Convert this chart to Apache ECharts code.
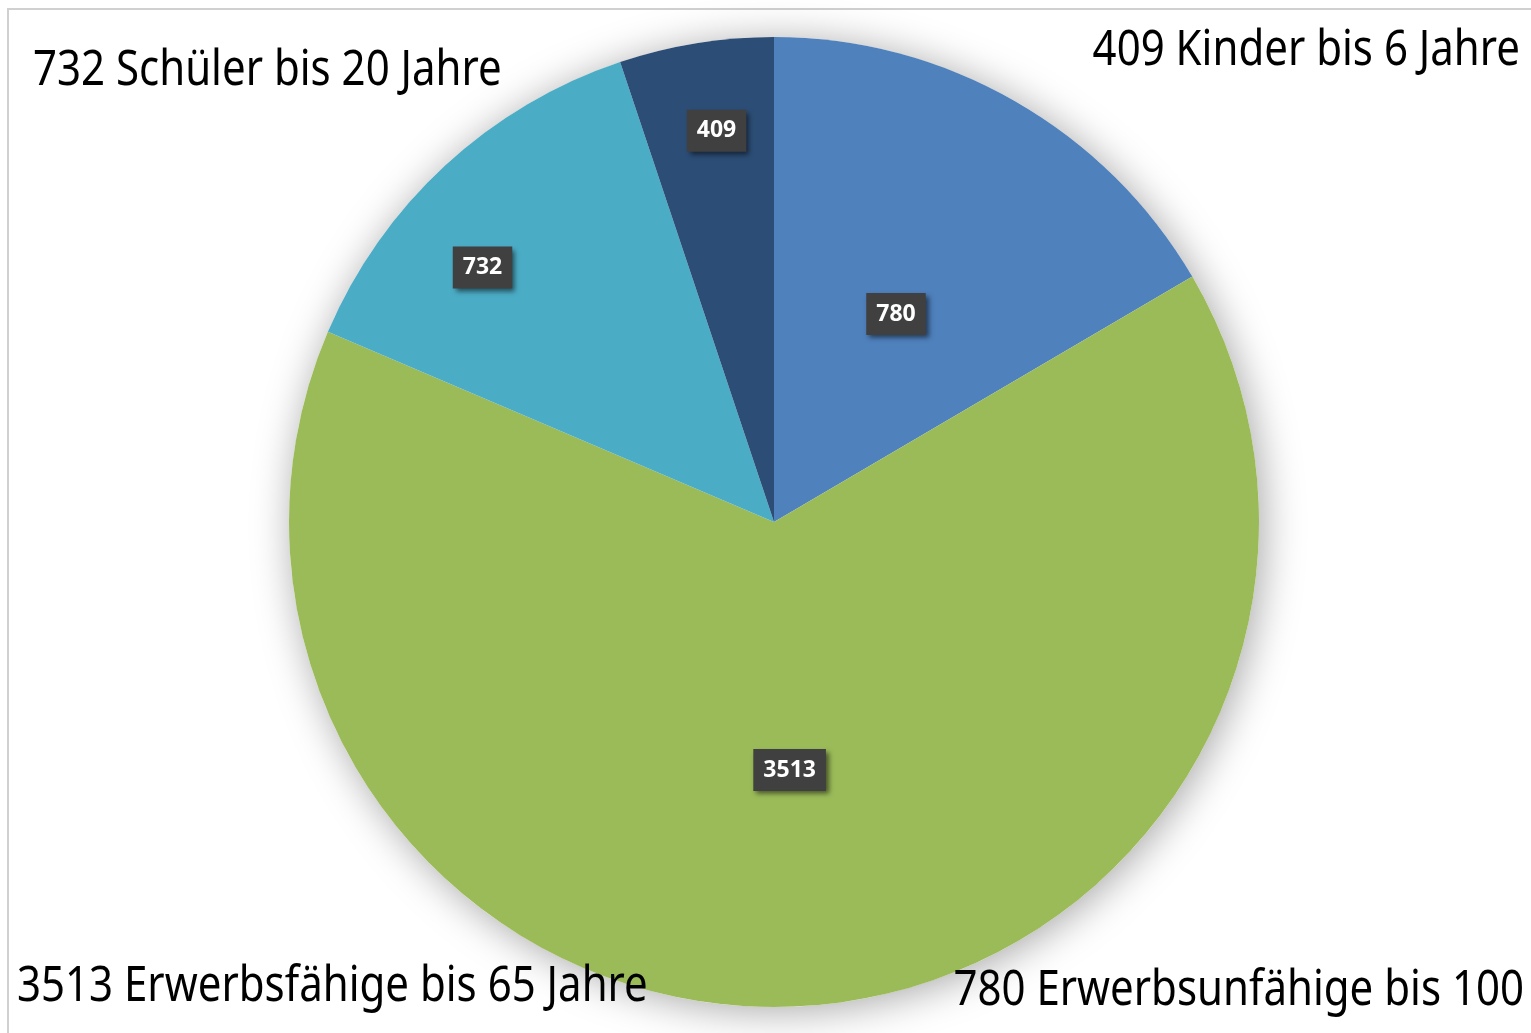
<!DOCTYPE html>
<html>
<head>
<meta charset="utf-8">
<script src="https://cdn.jsdelivr.net/npm/echarts@6/dist/echarts.min.js"></script>
<style>
  html, body { margin: 0; padding: 0; background: #fff; }
  #chart { width: 1531px; height: 1033px; }
</style>
</head>
<body>
<div id="chart"></div>
<script>
// categories clockwise from 12 o'clock
const categories = ['Erwerbsunfähige bis 100', 'Erwerbsfähige bis 65 Jahre', 'Schüler bis 20 Jahre', 'Kinder bis 6 Jahre'];
// numbers printed on the slices
const labelValues = [780, 3513, 732, 409];
// slice sizes as drawn (degrees)
const sliceDegrees = [59.6, 233.5, 48.4, 18.5];
const sliceColors = ['#4f81bd', '#9bbb59', '#4bacc6', '#2c4d75'];
// corner captions
const captions = ['780 Erwerbsunfähige bis 100', '3513 Erwerbsfähige bis 65 Jahre', '732 Schüler bis 20 Jahre', '409 Kinder bis 6 Jahre'];

// where excel moved the labels away from the slice middle
const labelShift = [[0, 5], [0, 3], [-125, -74], [-18, -149]];

const chart = echarts.init(document.getElementById('chart'));

const captionStyle = { fill: '#000', font: '42px "Noto Sans"' };

const option = {
    backgroundColor: '#fff',
    animation: false,
    graphic: [
        {
            type: 'rect',
            shape: { x: 8, y: 9, width: 1600, height: 1100 },
            style: { fill: 'none', stroke: '#d0d0d0', lineWidth: 2 },
            z: 0
        },
        { type: 'text', x: 33, y: 71, scaleY: 1.17, style: Object.assign({ text: captions[2], textVerticalAlign: 'middle' }, captionStyle), z: 10 },
        { type: 'text', x: 1520, y: 51, scaleY: 1.17, style: Object.assign({ text: captions[3], textAlign: 'right', textVerticalAlign: 'middle' }, captionStyle), z: 10 },
        { type: 'text', x: 17, y: 987, scaleY: 1.17, style: Object.assign({ text: captions[1], textVerticalAlign: 'middle' }, captionStyle), z: 10 },
        { type: 'text', x: 1524, y: 991, scaleY: 1.17, style: Object.assign({ text: captions[0], textAlign: 'right', textVerticalAlign: 'middle' }, captionStyle), z: 10 }
    ],
    series: [
        {
            // white disc only for the soft shadow
            type: 'pie',
            center: [774, 522],
            radius: [0, 485],
            silent: true,
            z: 1,
            label: { show: false },
            labelLine: { show: false },
            data: [{ value: 1 }],
            itemStyle: {
                color: '#fff',
                shadowBlur: 40,
                shadowColor: 'rgba(0,0,0,0.35)',
                shadowOffsetX: 4,
                shadowOffsetY: 4
            }
        },
        {
            type: 'pie',
            center: [774, 522],
            radius: [0, 485],
            startAngle: 90,
            clockwise: true,
            z: 2,
            data: categories.map((c, i) => ({
                name: c,
                value: sliceDegrees[i],
                itemStyle: { color: sliceColors[i] }
            })),
            itemStyle: { borderWidth: 0 },
            label: {
                show: true,
                position: 'inside',
                formatter: p => String(labelValues[p.dataIndex]),
                color: '#fff',
                fontFamily: 'Noto Sans',
                fontWeight: 'bold',
                fontSize: 23,
                lineHeight: 22,
                backgroundColor: '#404040',
                padding: [10, 10, 10, 10],
                shadowColor: 'rgba(0,0,0,0.55)',
                shadowBlur: 5,
                shadowOffsetX: 3,
                shadowOffsetY: 3
            },
            labelLine: { show: false },
            labelLayout: p => ({ dx: labelShift[p.dataIndex][0], dy: labelShift[p.dataIndex][1] })
        }
    ]
};

chart.setOption(option);
</script>
</body>
</html>
